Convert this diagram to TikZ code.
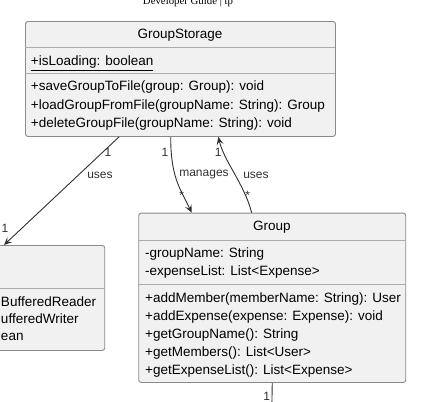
\documentclass[tikz,border=0pt]{standalone}
\usepackage{fontspec}
\setmainfont{Liberation Serif}
\setsansfont{Liberation Sans}
\usetikzlibrary{arrows.meta}

\definecolor{boxfill}{HTML}{F1F1F1}
\definecolor{boxline}{HTML}{8A8A8A}
\definecolor{sepline}{HTML}{ADADAD}
\definecolor{linkcol}{HTML}{303030}

\begin{document}
\begin{tikzpicture}[x=1pt,y=-1pt,font=\sffamily]

	\tikzstyle{umlbox}=[draw=boxline,fill=boxfill,line width=0.9pt,rounded corners=2.5pt,inner sep=0,anchor=north west]
	\tikzstyle{mysep}=[draw=sepline,line width=0.9pt]
	\tikzstyle{member}=[anchor=west,inner sep=0,font=\fontsize{13.5}{16}\sffamily,text height=10pt,text depth=3pt]
	\tikzstyle{linklabel}=[inner sep=0,font=\fontsize{12}{14}\sffamily,text=linkcol]
	\tikzstyle{myarrow}=[line width=0.9pt,draw=linkcol,-{Stealth[length=8pt,width=7pt,inset=3.5pt]}]

	\useasboundingbox (0,0) rectangle (440,402);
	\clip (0,0) rectangle (440,402);

	\node[font=\fontsize{10.8}{12}\rmfamily] (page) at (188,2.3) {Developer Guide | tp};

	% GroupStorage
	\node[umlbox,minimum width=310pt,minimum height=115pt] (storage) at (25,21) {};
	\draw[mysep] (25,47.7) -- (335,47.7);
	\draw[mysep] (25,73.3) -- (335,73.3);
	\node[member,anchor=center] (storagename) at (180,34.5) {GroupStorage};
	\node[member] (storageattr) at (30.7,62) {\underline{+isLoading: boolean}};
	\foreach \y / \txt in {87/+saveGroupToFile(group: Group): void,105.7/+loadGroupFromFile(groupName: String): Group,124/+deleteGroupFile(groupName: String): void}{ \node[member] at (30.7,\y) {\txt};}

	% reader / writer box, cut at the left
	\node[umlbox,minimum width=304.3pt,minimum height=105pt] (io) at (-200,245) {};
	\draw[mysep] (-200,288.3) -- (104.3,288.3);
	\foreach \y / \txt in {303.3/BufferedReader,320.3/ufferedWriter,337.3/ean}{ \node[member] at (0.8,\y) {\txt};}

	% Group
	\node[umlbox,minimum width=267pt,minimum height=169.3pt] (group) at (138.3,212.7) {};
	\draw[mysep] (138.3,240.7) -- (405.3,240.7);
	\draw[mysep] (138.3,284) -- (405.3,284);
	\node[member,anchor=center] (groupname) at (271.8,227.3) {Group};
	\foreach \y / \txt in {254.3/-groupName: String,272/-expenseList: List<Expense>}{ \node[member] at (145,\y) {\txt};}
	\foreach \y / \txt in {298.7/+addMember(memberName: String): User,316.7/+addExpense(expense: Expense): void,334.7/+getGroupName(): String,352.7/+getMembers(): List<User>,370.7/+getExpenseList(): List<Expense>}{ \node[member] at (145,\y) {\txt};}

	% links
	\draw[myarrow] ([xshift=94pt]storage.south west) -- ([xshift=204pt]io.north west);
	\node[linklabel] (usesA1) at (108,152.7) {1};
	\node[linklabel] (usesA) at (100,175) {uses};
	\node[linklabel] (usesA2) at (5,228) {1};

	\draw[myarrow] ([xshift=145.7pt]storage.south west) .. controls +(0,40) and +(-12,-25) .. ([xshift=53.4pt]group.north west);
	\node[linklabel] (manages1) at (165,152.7) {1};
	\node[linklabel] (manages) at (204,175) {manages};
	\node[linklabel] (manages2) at (181.7,195) {*};

	\draw[myarrow] ([xshift=113.4pt]group.north west) .. controls +(-8,-30) and +(6,25) .. ([xshift=193.3pt]storage.south west);
	\node[linklabel] (usesB1) at (218.3,152.7) {1};
	\node[linklabel] (usesB) at (256,175) {uses};
	\node[linklabel] (usesB2) at (247.7,195) {*};

	\coordinate (below) at (271.8,410);
	\draw[line width=0.9pt,draw=linkcol] (group.south) -- (below);
	\node[linklabel] (down1) at (266.7,396.7) {1};
\end{tikzpicture}
\end{document}
